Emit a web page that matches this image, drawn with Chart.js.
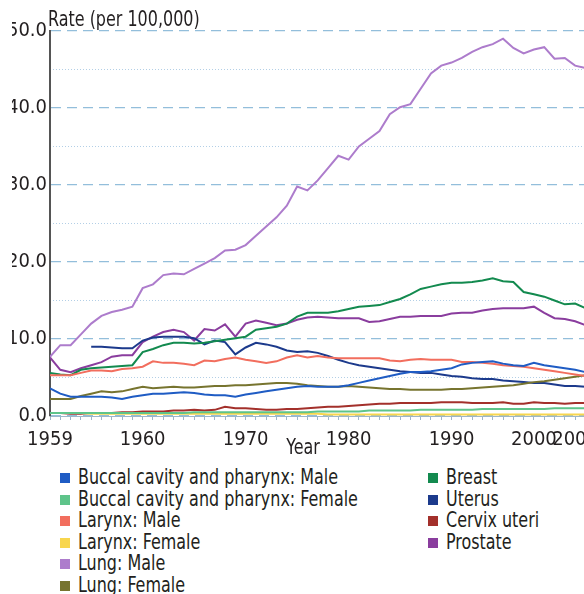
<!DOCTYPE html>
<html>
<head>
<meta charset="utf-8">
<script src="https://cdn.jsdelivr.net/npm/chart.js@4/dist/chart.umd.min.js"></script>
<style>
  html, body { margin:0; padding:0; }
  body { width:584px; height:594px; overflow:hidden; background:#ffffff; position:relative;
         font-family:'DejaVu Sans Condensed','DejaVu Sans',sans-serif; color:#231f20; }
  #wrap { position:absolute; left:12px; top:0; width:620px; height:462px; }
  #legend { position:absolute; left:0; top:467px; width:584px; }
  .col { position:absolute; top:0; }
  .item { font-size:21px; line-height:21.5px; white-space:nowrap; height:21.5px; }
  .sw { display:inline-block; width:10px; height:10px; margin-right:8px; vertical-align:1px; }
  .tx { display:inline-block; transform:scaleX(0.845); transform-origin:0 50%; }
</style>
</head>
<body>
<div id="wrap"><canvas id="c" width="620" height="462"></canvas></div>
<div id="legend"></div>
<script>
const FONT = "'DejaVu Sans Condensed','DejaVu Sans',sans-serif";

const years = [1951,1952,1953,1954,1955,1956,1957,1958,1959,1960,
  1961,1962,1963,1964,1965,1966,1967,1968,1969,1970,
  1971,1972,1973,1974,1975,1976,1977,1978,1979,1980,
  1981,1982,1983,1984,1985,1986,1987,1988,1989,1990,
  1991,1992,1993,1994,1995,1996,1997,1998,1999,2000,
  2001,2002,2003];

const tickYears  = [1951, 1960, 1970, 1980, 1990, 1998, 2002];
const tickLabels = ['1959','1960','1970','1980','1990','2000','2005'];

const seriesNames = ['Buccal cavity and pharynx: Male','Buccal cavity and pharynx: Female',
  'Larynx: Male','Larynx: Female','Lung: Male','Lung: Female',
  'Breast','Uterus','Cervix uteri','Prostate'];

const buccalMale = [3.6,2.9,2.5,2.5,2.5,2.5,2.4,2.2,2.5,2.7,
  2.9,2.9,3.0,3.1,3.0,2.8,2.7,2.7,2.5,2.8,
  3.0,3.2,3.4,3.6,3.8,3.9,3.8,3.8,3.8,4.0,
  4.3,4.6,4.9,5.2,5.5,5.7,5.7,5.8,6.0,6.2,
  6.7,6.9,7.0,7.1,6.8,6.6,6.5,6.9,6.6,6.4,
  6.2,6.0,5.7];
const buccalFemale = [0.4,0.4,0.4,0.4,0.4,0.4,0.4,0.4,0.4,0.4,
  0.4,0.4,0.4,0.4,0.5,0.5,0.5,0.5,0.5,0.5,
  0.5,0.5,0.5,0.5,0.5,0.5,0.6,0.6,0.6,0.6,
  0.6,0.7,0.7,0.7,0.7,0.7,0.8,0.8,0.8,0.8,
  0.8,0.8,0.9,0.9,0.9,0.9,0.9,0.9,0.9,1.0,
  1.0,1.0,1.0];
const larynxMale = [5.3,5.3,5.3,5.6,5.9,5.9,5.8,6.1,6.2,6.4,
  7.1,6.9,6.9,6.8,6.6,7.2,7.1,7.4,7.6,7.3,
  7.1,6.9,7.1,7.6,7.9,7.6,7.8,7.6,7.5,7.5,
  7.5,7.5,7.5,7.2,7.1,7.3,7.4,7.3,7.3,7.3,
  7.0,7.0,6.9,6.8,6.6,6.5,6.4,6.2,6.0,5.8,
  5.6,5.4,5.2];
const larynxFemale = [0.4,0.4,0.4,0.4,0.3,0.3,0.3,0.3,0.3,0.3,
  0.3,0.3,0.3,0.3,0.3,0.3,0.3,0.3,0.3,0.3,
  0.3,0.3,0.3,0.3,0.3,0.3,0.3,0.2,0.2,0.2,
  0.2,0.2,0.2,0.2,0.2,0.2,0.2,0.2,0.2,0.2,
  0.2,0.2,0.2,0.2,0.2,0.2,0.2,0.2,0.2,0.2,
  0.2,0.2,0.2];
const lungMale = [7.7,9.2,9.2,10.6,12.0,13.0,13.5,13.8,14.2,16.6,
  17.1,18.3,18.5,18.4,19.1,19.8,20.5,21.5,21.6,22.2,
  23.4,24.6,25.8,27.3,29.8,29.3,30.6,32.2,33.8,33.3,
  35.0,36.0,37.0,39.2,40.1,40.5,42.5,44.5,45.5,45.9,
  46.5,47.3,47.9,48.3,49.0,47.8,47.1,47.6,47.9,46.4,
  46.5,45.5,45.2];
const lungFemale = [2.2,2.2,2.2,2.6,2.9,3.2,3.1,3.2,3.5,3.8,
  3.6,3.7,3.8,3.7,3.7,3.8,3.9,3.9,4.0,4.0,
  4.1,4.2,4.3,4.3,4.2,4.0,3.9,3.8,3.8,3.9,
  3.8,3.7,3.6,3.5,3.5,3.4,3.4,3.4,3.4,3.5,
  3.5,3.6,3.7,3.8,3.9,4.0,4.2,4.4,4.5,4.7,
  4.9,5.1,5.3];
const breast = [5.6,5.4,5.3,6.0,6.2,6.3,6.4,6.5,6.6,8.3,
  8.7,9.2,9.5,9.5,9.4,9.5,9.7,9.9,10.1,10.3,
  11.2,11.4,11.6,12.0,12.9,13.4,13.4,13.4,13.6,13.9,
  14.2,14.3,14.4,14.8,15.2,15.8,16.5,16.8,17.1,17.3,
  17.3,17.4,17.6,17.9,17.5,17.4,16.1,15.8,15.5,15.0,
  14.5,14.6,14.0];
const uterus = [null,null,null,null,9.0,9.0,8.9,8.8,8.8,9.8,
  10.2,10.3,10.3,10.3,10.1,9.3,9.8,9.6,8.0,8.9,
  9.5,9.3,9.0,8.5,8.3,8.4,8.2,7.8,7.3,6.9,
  6.6,6.4,6.2,6.0,5.8,5.7,5.6,5.6,5.4,5.2,
  5.1,4.9,4.8,4.8,4.6,4.5,4.4,4.3,4.3,4.1,
  3.9,3.9,3.8];
const cervixUteri = [0.4,0.4,0.3,0.3,0.4,0.4,0.4,0.5,0.5,0.6,
  0.6,0.6,0.7,0.7,0.8,0.7,0.8,1.2,1.0,1.0,
  0.9,0.8,0.8,0.9,0.9,1.0,1.1,1.2,1.2,1.3,
  1.4,1.5,1.6,1.6,1.7,1.7,1.7,1.7,1.8,1.8,
  1.8,1.7,1.7,1.7,1.8,1.6,1.6,1.8,1.7,1.7,
  1.6,1.7,1.7];
const prostate = [7.6,6.0,5.7,6.2,6.6,7.0,7.7,7.9,7.9,9.6,
  10.3,10.9,11.2,10.9,9.8,11.3,11.1,11.9,10.3,12.0,
  12.4,12.1,11.8,12.0,12.5,12.8,12.9,12.8,12.7,12.7,
  12.7,12.2,12.3,12.6,12.9,12.9,13.0,13.0,13.0,13.3,
  13.4,13.4,13.7,13.9,14.0,14.0,14.0,14.2,13.4,12.7,
  12.6,12.3,11.8];

const seriesValues = [buccalMale, buccalFemale, larynxMale, larynxFemale, lungMale, lungFemale,
  breast, uterus, cervixUteri, prostate];
const seriesColors = ['#1f5cc4','#5ec48a','#f26e5e','#f8d64e','#ad7ccc','#77742f',
  '#138a4f','#1c3a8c','#a3302b','#8a3d9e'];

const datasets = seriesNames.map((name, i) => ({
  label: name,
  data: seriesValues[i],
  borderColor: seriesColors[i],
  backgroundColor: seriesColors[i],
  borderWidth: 2,
  pointRadius: 0,
  pointHoverRadius: 0,
  tension: 0,
  fill: false,
  spanGaps: false,
  yAxisID: 'y',
  xAxisID: 'x'
}));

const axisText = {
  id: 'axisText',
  afterDraw(chart, args, opts) {
    const {ctx, chartArea, scales} = chart;
    const sx = 0.845;
    ctx.save();
    ctx.fillStyle = '#231f20';
    ctx.font = '21px ' + FONT;
    ctx.textBaseline = 'alphabetic';
    // y-axis title, horizontal above the axis
    ctx.save();
    ctx.translate(chartArea.left - 2, chartArea.top - 5);
    ctx.scale(sx, 1);
    ctx.textAlign = 'left';
    ctx.fillText(opts.yTitle, 0, 0);
    ctx.restore();
    // x-axis title, between the 1970 and 1980 ticks
    const xs = scales.x;
    const cx = (xs.getPixelForValue(1970) + xs.getPixelForValue(1980)) / 2 + 6;
    ctx.save();
    ctx.translate(cx, chartArea.bottom + 38);
    ctx.scale(sx, 1);
    ctx.textAlign = 'center';
    ctx.fillText(opts.xTitle, 0, 0);
    ctx.restore();
    ctx.restore();
  }
};

Chart.defaults.font.family = FONT;
Chart.defaults.color = '#231f20';

const chart = new Chart(document.getElementById('c'), {
  type: 'line',
  data: { labels: years, datasets },
  plugins: [axisText],
  options: {
    responsive: false,
    animation: false,
    devicePixelRatio: 1,
    layout: { padding: { top: 31, right: 26, bottom: 2, left: 0 } },
    plugins: {
      legend: { display: false },
      tooltip: { enabled: false },
      axisText: { yTitle: 'Rate (per 100,000)', xTitle: 'Year' }
    },
    scales: {
      x: {
        type: 'linear', min: 1951, max: 2005,
        afterBuildTicks: s => {
          const t = [];
          for (let v = 1951; v <= 2005; v++) t.push({ value: v });
          s.ticks = t;
        },
        ticks: {
          autoSkip: false, maxRotation: 0, minRotation: 0,
          font: { size: 20 }, color: '#231f20', padding: 8,
          callback: v => { const i = tickYears.indexOf(v); return i >= 0 ? tickLabels[i] : ''; }
        },
        grid: { drawOnChartArea: false, drawTicks: true, tickLength: 4, color: '#9db6c9' },
        border: { display: true, color: '#9db6c9', width: 1 },
        afterFit: s => { s.height = 44; }
      },
      y: {
        position: 'left', min: 0, max: 50,
        ticks: { stepSize: 10, font: { size: 20 }, color: '#231f20', padding: 3,
                 callback: v => Number(v).toFixed(1) },
        grid: { color: '#93bedb', lineWidth: 1.3, drawTicks: false },
        border: { display: true, color: '#555555', width: 2, dash: [10, 6] },
        afterFit: s => { s.width = 38; }
      },
      y2: {
        position: 'right', min: 0, max: 50,
        ticks: { display: false, stepSize: 5 },
        grid: { drawTicks: false, lineWidth: 1,
                color: c => (c.tick && c.tick.value % 10 !== 0) ? '#b3cfe6' : 'rgba(0,0,0,0)' },
        border: { display: false, dash: [1, 2] },
        afterFit: s => { s.width = 0; }
      }
    }
  }
});

// HTML legend built from the chart's datasets (two columns as in the reference)
const legend = document.getElementById('legend');
const cols = [document.createElement('div'), document.createElement('div')];
cols[0].className = 'col'; cols[0].style.left = '60px';
cols[1].className = 'col'; cols[1].style.left = '428px';
chart.data.datasets.forEach((ds, i) => {
  const row = document.createElement('div');
  row.className = 'item';
  const sw = document.createElement('span');
  sw.className = 'sw';
  sw.style.background = ds.borderColor;
  const tx = document.createElement('span');
  tx.className = 'tx';
  tx.textContent = ds.label;
  row.appendChild(sw);
  row.appendChild(tx);
  cols[i < 6 ? 0 : 1].appendChild(row);
});
cols.forEach(c => legend.appendChild(c));
</script>
</body>
</html>
